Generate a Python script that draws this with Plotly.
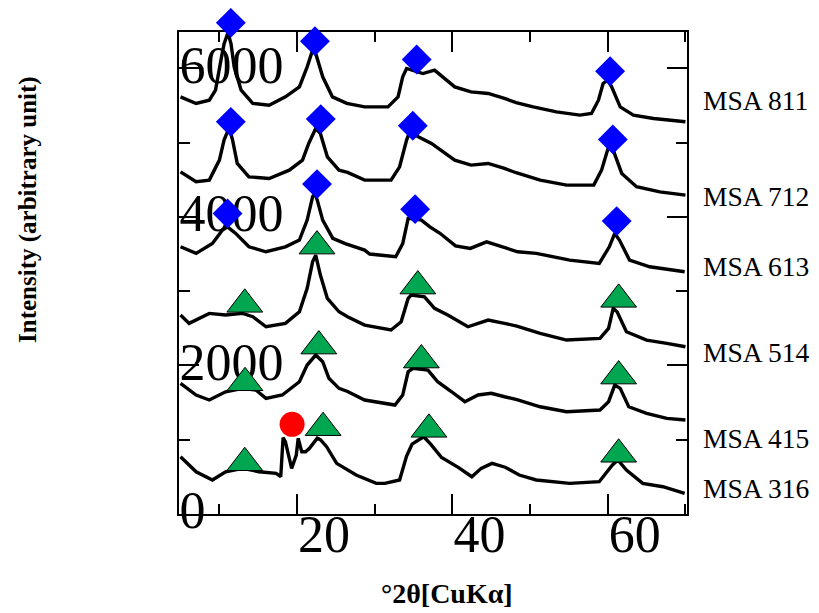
import plotly.graph_objects as go

# ---------------- data ----------------
x_811 = [5.0, 7.0, 8.7, 9.5, 10.2, 10.6, 11.1, 11.5, 11.9, 12.8, 14.3, 16.4, 18.5, 20.3, 21.3, 22.0, 22.4,
         23.3, 24.55, 26.4, 28.7, 31.7, 33.0, 33.6, 34.1, 34.7, 36.2, 37.7, 39.0, 40.3, 42.4, 44.6, 46.7,
         48.2, 50.4, 53.4, 56.4, 57.9, 58.8, 59.4, 60.0, 60.5, 61.6, 63.3, 65.9, 70.0]
y_811 = [5617, 5528, 5572, 5707, 6111, 6330, 6480, 6330, 6021, 5707, 5528, 5505, 5617, 5751, 6021, 6245, 6201,
         5886, 5617, 5530, 5482, 5482, 5617, 5886, 5999, 5976, 5931, 5976, 5864, 5751, 5684, 5662, 5595,
         5540, 5482, 5415, 5371, 5393, 5572, 5797, 5842, 5751, 5482, 5371, 5326, 5281]

x_712 = [5.0, 7.0, 8.7, 10.0, 10.6, 11.25, 11.7, 12.3, 13.8, 16.4, 19.0, 20.7, 21.5, 22.4, 23.0, 23.9, 25.4,
         26.5, 28.7, 32.1, 33.2, 34.1, 34.5, 35.6, 37.3, 38.8, 40.3, 42.4, 44.6, 46.7, 48.2, 51.3, 54.7,
         58.2, 59.2, 60.1, 60.7, 61.8, 63.7, 66.7, 70.0]
y_712 = [4607, 4473, 4496, 4765, 5034, 5200, 5034, 4720, 4540, 4518, 4630, 4765, 4989, 5191, 5124, 4809, 4630,
         4600, 4496, 4496, 4675, 5034, 5146, 5079, 4989, 4877, 4765, 4698, 4720, 4653, 4595, 4496, 4428,
         4428, 4630, 4944, 4899, 4586, 4406, 4338, 4294]

x_613 = [5.0, 7.0, 9.1, 10.4, 11.05, 12.1, 13.8, 16.0, 18.5, 20.3, 21.3, 22.0, 22.3, 22.6, 23.3, 24.6, 26.2,
         28.7, 29.35, 32.7, 33.6, 34.3, 35.1, 36.0, 37.1, 38.4, 40.4, 42.3, 44.4, 46.4, 48.4, 50.8, 55.1,
         58.9, 60.2, 60.9, 61.5, 62.8, 65.4, 69.9]
y_613 = [3598, 3509, 3643, 3823, 3867, 3778, 3598, 3531, 3598, 3688, 3957, 4271, 4316, 4226, 3957, 3711, 3640,
         3553, 3500, 3463, 3640, 3980, 3975, 3957, 3867, 3780, 3610, 3576, 3665, 3598, 3531, 3509, 3419,
         3374, 3598, 3778, 3688, 3419, 3329, 3262]

x_514 = [5.0, 6.1, 8.7, 10.8, 13.0, 14.3, 16.0, 18.5, 20.3, 21.3, 22.0, 22.4, 23.0, 23.9, 25.4, 26.5, 28.7,
         32.1, 33.4, 34.3, 34.7, 36.4, 37.7, 39.4, 42.0, 44.6, 46.7, 48.3, 51.3, 54.7, 59.0, 60.1, 60.7,
         61.2, 62.4, 65.0, 67.6, 70.0]
y_514 = [2679, 2567, 2701, 2679, 2701, 2656, 2521, 2567, 2723, 3038, 3396, 3486, 3217, 2903, 2723, 2656, 2544,
         2477, 2588, 2903, 2948, 2925, 2769, 2679, 2521, 2611, 2567, 2530, 2432, 2342, 2365, 2499, 2769,
         2723, 2454, 2342, 2298, 2252]

x_415 = [5.0, 7.0, 8.7, 10.8, 13.0, 14.7, 16.0, 18.1, 20.3, 21.3, 22.4, 23.3, 24.1, 25.4, 26.5, 28.7, 32.6,
         33.6, 34.3, 34.9, 36.85, 38.1, 39.9, 41.6, 43.3, 45.0, 46.7, 48.3, 51.3, 54.7, 59.0, 60.1, 60.9,
         61.6, 62.7, 65.0, 67.6, 70.0]
y_415 = [1759, 1602, 1535, 1646, 1692, 1669, 1557, 1602, 1781, 2006, 2140, 2050, 1827, 1692, 1650, 1535, 1467,
         1602, 1915, 1961, 1938, 1781, 1646, 1512, 1602, 1625, 1579, 1540, 1444, 1377, 1400, 1512, 1736,
         1692, 1444, 1355, 1288, 1265]

x_316 = [5.0, 7.0, 9.1, 10.8, 13.0, 15.1, 17.3, 17.9, 18.2, 18.5, 19.0, 19.3, 19.9, 20.15, 20.6, 21.1, 21.6,
         22.6, 23.0, 23.8, 25.1, 26.5, 27.6, 30.2, 31.3, 33.2, 34.1, 34.8, 36.3, 37.2, 38.6, 40.8, 42.5,
         43.7, 45.1, 46.8, 48.6, 50.8, 55.1, 58.9, 60.6, 61.3, 62.4, 64.5, 67.1, 69.9]
y_316 = [771, 569, 458, 569, 615, 569, 548, 502, 1030, 973, 750, 615, 794, 1019, 839, 839, 884,
         1020, 1000, 906, 682, 600, 525, 413, 413, 458, 780, 940, 1040, 940, 760, 625, 502,
         615, 682, 630, 525, 458, 413, 435, 660, 727, 592, 413, 367, 279]

series = [("MSA 811", x_811, y_811), ("MSA 712", x_712, y_712), ("MSA 613", x_613, y_613),
          ("MSA 514", x_514, y_514), ("MSA 415", x_415, y_415), ("MSA 316", x_316, y_316)]

# peak markers
diamond_x = [11.47, 22.3, 35.4, 60.3, 11.47, 23.05, 34.9, 60.65, 11.05, 22.57, 35.2, 61.15]
diamond_y = [6613, 6367, 6119, 5962, 5280, 5317, 5227, 5044, 4047, 4442, 4105, 3944]
triangle_x = [13.27, 22.57, 35.55, 61.4, 13.3, 22.8, 36.0, 61.4, 13.27, 23.35, 36.98, 61.4]
triangle_y = [2823, 3607, 3069, 2890, 1767, 2261, 2073, 1857, 690, 1162, 1140, 804]
circle_x = [19.36]
circle_y = [1207]

label_names = ["MSA 811", "MSA 712", "MSA 613", "MSA 514", "MSA 415", "MSA 316"]
label_y = [5572, 4271, 3329, 2181, 1019, 346]

x_title = "°2θ[CuKα]"
y_title = "Intensity (arbitrary unit)"

Y_MAX = 6490
# the main frame uses the lower part of the plotting region; the marker axis spans
# the whole region with the same scale so that markers above the frame still show
MAIN_FRAC = 482 / 502

# ---------------- figure ----------------
SERIF = "Liberation Serif, Times New Roman, serif"
fig = go.Figure()
for name, xs, ys in series:
    fig.add_trace(go.Scatter(x=xs, y=ys, mode="lines", name=name,
                             line=dict(color="black", width=3.4), showlegend=False))

fig.add_trace(go.Scatter(x=diamond_x, y=diamond_y, mode="markers", showlegend=False, cliponaxis=False,
                         xaxis="x", yaxis="y2",
                         marker=dict(symbol="diamond", size=23, color="#0000FF", line=dict(width=0))))
fig.add_trace(go.Scatter(x=triangle_x, y=triangle_y, mode="markers", showlegend=False, cliponaxis=False,
                         xaxis="x", yaxis="y2",
                         marker=dict(symbol="triangle-up", size=31, color="#00A650",
                                     line=dict(color="black", width=1))))
fig.add_trace(go.Scatter(x=circle_x, y=circle_y, mode="markers", showlegend=False, cliponaxis=False,
                         xaxis="x", yaxis="y2",
                         marker=dict(symbol="circle", size=25, color="#FF0000", line=dict(width=0))))

for name, yv in zip(label_names, label_y):
    fig.add_annotation(text=name, xref="paper", x=1, xanchor="left", xshift=14,
                       yref="y", y=yv, yanchor="middle", showarrow=False,
                       font=dict(family=SERIF, size=27.5, color="black"))

fig.add_annotation(text="<b>" + x_title + "</b>", xref="paper", x=0.527, yref="paper", y=0,
                   yshift=-79, xanchor="center", yanchor="middle", showarrow=False,
                   font=dict(family=SERIF, size=28, color="black"))
fig.add_annotation(text="<b>" + y_title + "</b>", xref="paper", x=0, xshift=-151, yref="paper", y=0.6056,
                   xanchor="center", yanchor="middle", textangle=-90, showarrow=False,
                   font=dict(family=SERIF, size=25, color="black"))

fig.update_layout(
    xaxis=dict(range=[4.8, 70.2], tick0=0, dtick=20, ticks="inside", ticklen=20, tickwidth=2,
               tickcolor="black", showline=True, linecolor="black", linewidth=2, mirror="ticks",
               showgrid=False, zeroline=False, ticklabelshift=27, ticklabelstandoff=-26,
               anchor="y",
               minor=dict(dtick=10, tick0=0, ticks="inside", ticklen=10, tickwidth=2, tickcolor="black",
                          showgrid=False),
               tickfont=dict(family=SERIF, size=52, color="black")),
    yaxis=dict(range=[0, Y_MAX], domain=[0, MAIN_FRAC], tick0=0, dtick=2000, ticks="inside", ticklen=20,
               tickwidth=2, tickcolor="black", showline=True, linecolor="black", linewidth=2,
               mirror="ticks", showgrid=False, zeroline=False, ticklabelposition="inside",
               ticklabelstandoff=-12, ticklabelshift=-4, ticklabeloverflow="allow", anchor="x",
               minor=dict(dtick=1000, tick0=0, ticks="inside", ticklen=11, tickwidth=2, tickcolor="black",
                          showgrid=False),
               tickfont=dict(family=SERIF, size=52, color="black")),
    yaxis2=dict(range=[0, Y_MAX / MAIN_FRAC], domain=[0, 1], visible=False, anchor="x",
                showgrid=False, zeroline=False),
    width=811, height=605, margin=dict(l=171, r=132, t=4, b=99),
    plot_bgcolor="rgba(0,0,0,0)", paper_bgcolor="white",
)

fig.write_html("out.html")
